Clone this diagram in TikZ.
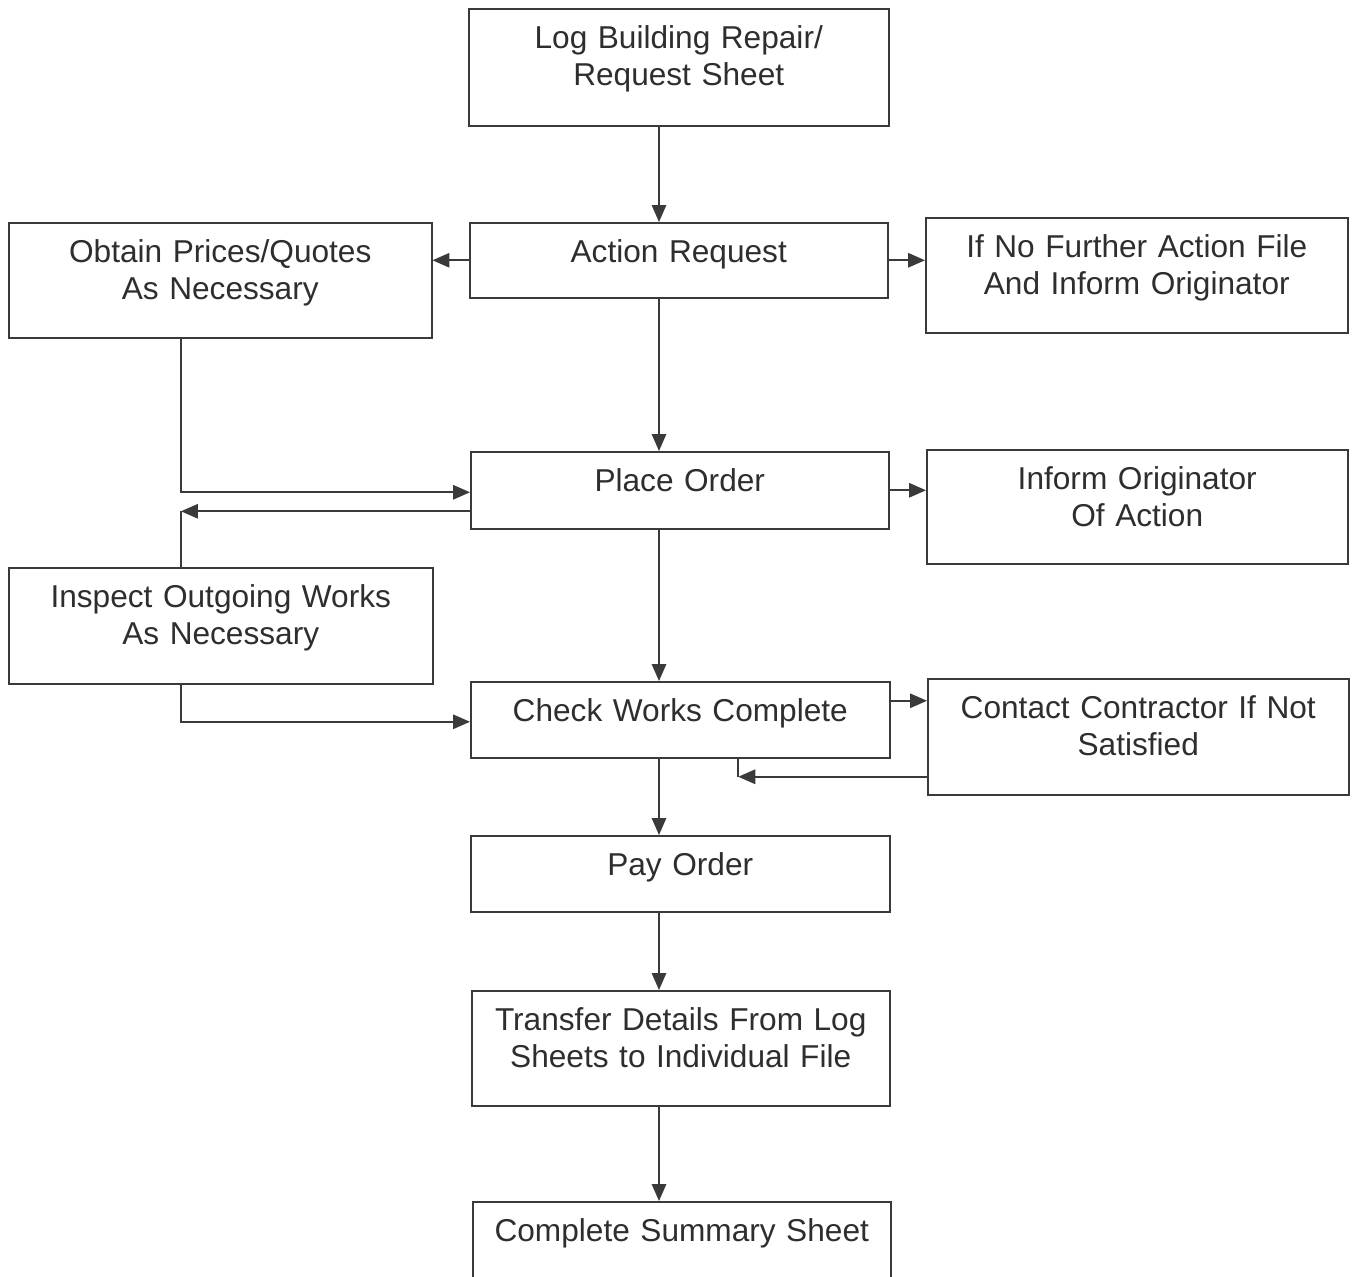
\documentclass[tikz,border=0pt]{standalone}
\usepackage{fontspec}
\setmainfont{Liberation Sans}
\usepackage{tikz}
\usetikzlibrary{arrows.meta,calc}

\definecolor{linegray}{HTML}{3A3A3A}
\definecolor{textgray}{HTML}{2E2E2E}
\newcommand{\boxfont}{\fontsize{18}{20.9}\selectfont}

\tikzset{
	box/.style={draw=linegray, line width=0.9pt, inner sep=0pt, anchor=north west,
		align=center, text width=8.4cm, text height=0.8cm, text depth=1.52cm,
		text=textgray, font=\boxfont},
	shortbox/.style={box, text depth=0.72cm},
	sidebox/.style={box, text width=8.44cm},
	link/.style={draw=linegray, line width=0.9pt},
	arr/.style={link, -{Triangle[length=0.34cm,width=0.29cm]}},
}

\begin{document}
\begin{tikzpicture}[x=0.02cm, y=-0.02cm]
			\useasboundingbox (0,0) rectangle (1353,1277);
			\clip (0,0) rectangle (1353,1277);
			
			% Main column
			\node[box, text depth=1.54cm] (log) at (468,8) {Log Building Repair/\\Request Sheet};
			\node[shortbox, text width=8.36cm, text depth=0.7cm] (act) at (469,222) {Action Request};
			\node[shortbox, text width=8.36cm, text depth=0.74cm] (place) at (470,451) {Place Order};
			\node[shortbox, text width=8.38cm] (check) at (470,681) {Check Works Complete};
			\node[shortbox, text width=8.38cm] (pay) at (470,835) {Pay Order};
			\node[box, text width=8.36cm, text depth=1.5cm] (trans) at (471,990) {Transfer Details From Log\\Sheets to Individual File};
			\node[shortbox, text width=8.36cm, text depth=1cm] (summ) at (472,1201) {Complete Summary Sheet};
			
			% Left column
			\node[sidebox, text width=8.46cm, text depth=1.5cm] (obt) at (8,222) {Obtain Prices/Quotes\\As Necessary};
			\node[sidebox, text width=8.48cm] (insp) at (8,567) {Inspect Outgoing Works\\As Necessary};
			
			% Right column
			\node[sidebox, text depth=1.5cm] (nofur) at (925,217) {If No Further Action File\\And Inform Originator};
			\node[sidebox, text width=8.42cm, text depth=1.48cm] (inform) at (926,449) {Inform Originator\\Of Action};
			\node[sidebox, text width=8.42cm] (contact) at (927,678) {Contact Contractor If Not\\Satisfied};
			
			% Lanes for the connectors
			\coordinate (spine) at (659,0);
			\coordinate (lane) at (181,0);
			
			% Down the main column
			\draw[arr] (log.south -| spine) -- (act.north -| spine);
			\draw[arr] (act.south -| spine) -- (place.north -| spine);
			\draw[arr] (place.south -| spine) -- (check.north -| spine);
			\draw[arr] (check.south -| spine) -- (pay.north -| spine);
			\draw[arr] (pay.south -| spine) -- (trans.north -| spine);
			\draw[arr] (trans.south -| spine) -- (summ.north -| spine);
			
			% Side branches
			\draw[arr] (act.west) -- (act.west -| obt.east);
			\draw[arr] (act.east) -- (act.east -| nofur.west);
			\draw[arr] (place.east) -- (place.east -| inform.west);
			\coordinate (chkout) at ($(check.east)+(0,-19)$);
			\draw[arr] (chkout) -- (chkout -| contact.west);
			
			% Left loops
			\draw[arr] (obt.south -| lane) |- ($(place.west)+(0,2)$);
			\coordinate (placeret) at ($(place.west)+(0,21)$);
			\coordinate (retend) at (placeret -| lane);
			\draw[arr] (placeret) -- (retend);
			\draw[link] (insp.north -| lane) -- (retend);
			\draw[arr] (insp.south -| lane) |- ($(check.west)+(0,2)$);
			
			% Return from contractor
			\coordinate (chkin) at ($(check.south)+(58,0)$);
			\coordinate (conret) at ($(contact.west)+(0,40)$);
			\draw[arr] (conret) -- (conret -| chkin);
			\draw[link] (conret -| chkin) -- (chkin);
		\end{tikzpicture}
\end{document}
